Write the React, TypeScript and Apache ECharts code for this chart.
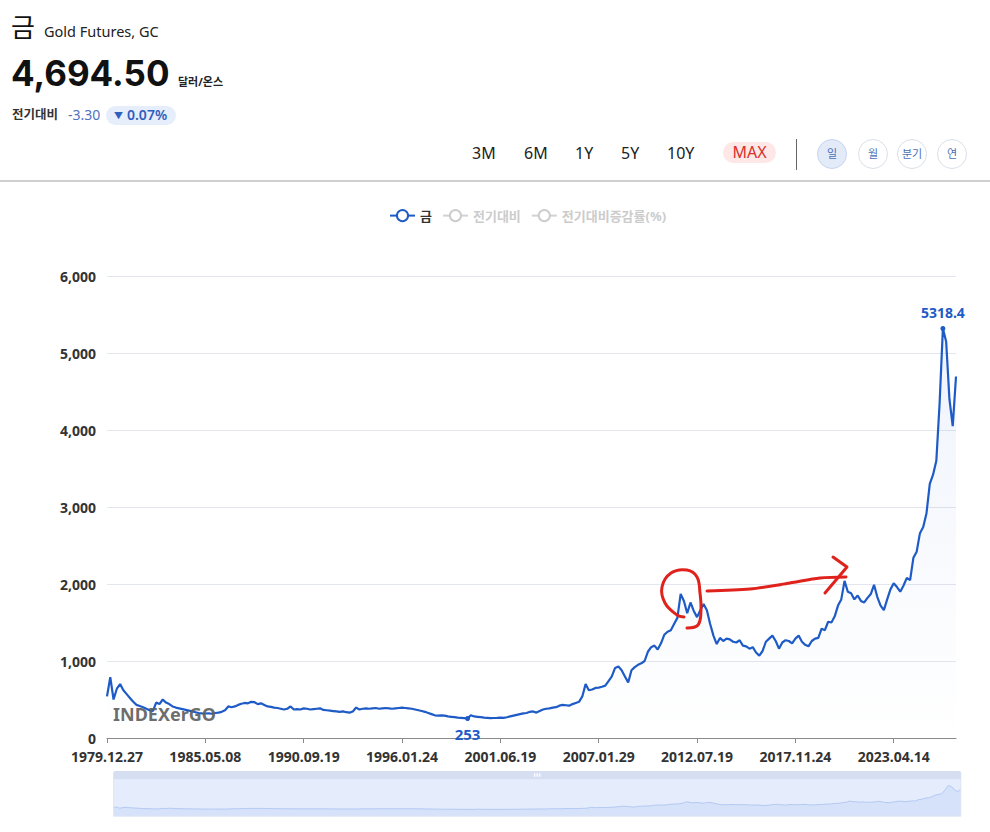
import React, { useEffect, useRef } from "react";
import * as echarts from "echarts";

const FONT = "'Noto Sans', 'Noto Sans CJK KR', sans-serif";
const BLUE = "#1e5bc6";
const RED = "#e0221c";

// x-axis tick labels (every STEP-th category)
const tickLabels = [
  "1979.12.27",
  "1985.05.08",
  "1990.09.19",
  "1996.01.24",
  "2001.06.19",
  "2007.01.29",
  "2012.07.19",
  "2017.11.24",
  "2023.04.14",
];
const STEP = 30;

// Gold futures, USD/oz (one point per ~2 months)
const prices1980 = [
  540, 790, 500, 640, 700, 620, 570, 520, 470, 430, 415, 400, 380, 360, 350,
  460, 440, 500, 460, 440, 410, 395, 385, 375, 365, 355, 345, 335, 325, 320,
];
const prices1985 = [
  318, 320, 315, 325, 330, 340, 360, 410, 400, 410, 430, 445, 455, 450, 470,
  465, 440, 450, 430, 410, 405, 395, 390, 380, 370, 380, 410, 370, 375, 370,
];
const prices1990 = [
  385, 380, 370, 375, 380, 385, 365, 360, 355, 350, 345, 340, 345, 335, 330,
  345, 395, 370, 380, 385, 380, 385, 390, 380, 385, 390, 385, 380, 385, 390,
];
const prices1996 = [
  395, 390, 385, 380, 370, 360, 350, 340, 325, 310, 295, 290, 295, 290, 280,
  275, 270, 265, 262, 258, 253, 295, 280, 275, 270, 265, 262, 258, 260, 262,
];
const prices2001 = [
  265, 262, 270, 280, 290, 300, 310, 320, 325, 340, 345, 330, 350, 370, 380,
  385, 395, 400, 420, 430, 425, 420, 440, 455, 470, 540, 700, 620, 630, 650,
];
const prices2007 = [
  655, 665, 680, 740, 800, 910, 930, 880, 800, 720, 880, 920, 950, 970, 1000,
  1120, 1180, 1200, 1150, 1230, 1340, 1380, 1400, 1480, 1560, 1870, 1780, 1620, 1760, 1650,
];
const prices2012 = [
  1570, 1660, 1740, 1660, 1480, 1330, 1220, 1300, 1260, 1290, 1280, 1250, 1240, 1270, 1200,
  1190, 1160, 1180, 1110, 1070, 1130, 1250, 1290, 1330, 1260, 1160, 1240, 1270, 1260, 1230,
];
const prices2017 = [
  1290, 1330, 1250, 1210, 1190, 1260, 1290, 1300, 1420, 1400, 1510, 1500, 1580, 1720, 1800,
  2040, 1900, 1880, 1800, 1850, 1780, 1760, 1820, 1870, 1990, 1830, 1720, 1660, 1800, 1930,
];
const prices2023 = [
  2010, 1960, 1900, 1980, 2080, 2050, 2340, 2420, 2660, 2740, 2920, 3300, 3420, 3600, 4350,
  5318.4, 5150, 4400, 4050, 4694.5,
];

const prices = [
  ...prices1980, ...prices1985, ...prices1990, ...prices1996, ...prices2001,
  ...prices2007, ...prices2012, ...prices2017, ...prices2023,
];

function parseDate(s: string) {
  const [y, m, d] = s.split(".").map(Number);
  return Date.UTC(y, m - 1, d);
}
function fmt(t: number) {
  const d = new Date(t);
  const p = (n: number) => String(n).padStart(2, "0");
  return `${d.getUTCFullYear()}.${p(d.getUTCMonth() + 1)}.${p(d.getUTCDate())}`;
}
function buildDates(n: number) {
  const ts = tickLabels.map(parseDate);
  const out: string[] = [];
  for (let i = 0; i < n; i++) {
    let seg = Math.floor(i / STEP);
    if (seg > ts.length - 2) seg = ts.length - 2;
    const t0 = ts[seg];
    const t1 = ts[seg + 1];
    const f = (i - seg * STEP) / STEP;
    out.push(f === 0 ? tickLabels[seg] : fmt(t0 + f * (t1 - t0)));
  }
  return out;
}
const dates = buildDates(prices.length);

export default function App() {
  const ref = useRef<HTMLDivElement>(null);

  useEffect(() => {
    if (!ref.current) return;
    const chart = echarts.init(ref.current, null, { renderer: "svg" });
    const option: any = {
      animation: false,
      textStyle: { fontFamily: FONT },
      legend: {
        left: 384,
        top: 204,
        itemWidth: 25,
        itemHeight: 14,
        itemGap: 10,
        data: ["금", "전기대비", "전기대비증감률(%)"],
        selected: { "금": true, "전기대비": false, "전기대비증감률(%)": false },
        textStyle: { fontSize: 13, fontWeight: "bold", color: "#333", fontFamily: FONT },
        inactiveColor: "#cccccc",
      },
      grid: { left: 107, right: 34, top: 276, bottom: 94, outerBoundsMode: "none" },
      xAxis: {
        type: "category",
        boundaryGap: false,
        data: dates,
        axisLine: { lineStyle: { color: "#8a8a8a" } },
        axisTick: { interval: STEP - 1, length: 5, lineStyle: { color: "#8a8a8a" } },
        axisLabel: {
          interval: STEP - 1,
          fontSize: 14,
          lineHeight: 14,
          fontWeight: "bold",
          color: "#333",
          margin: 11,
          fontFamily: FONT,
        },
        splitLine: { show: false },
      },
      yAxis: {
        type: "value",
        min: 0,
        max: 6000,
        interval: 1000,
        axisLine: { show: false },
        axisTick: { show: false },
        axisLabel: {
          fontSize: 14,
          lineHeight: 12,
          fontWeight: "bold",
          color: "#333",
          margin: 11,
          fontFamily: FONT,
          formatter: (v: number) => v.toLocaleString("en-US"),
        },
        splitLine: { lineStyle: { color: "#e4e6ee" } },
      },
      dataZoom: [
        {
          type: "slider",
          xAxisIndex: 0,
          start: 0,
          end: 100,
          left: 110,
          right: 32,
          top: 771,
          height: 38,
          showDetail: false,
          brushSelect: true,
          borderColor: "#dfe5f3",
          backgroundColor: "rgba(0,0,0,0)",
          fillerColor: "rgba(170,196,245,0.3)",
          handleStyle: { color: "rgba(0,0,0,0)", borderColor: "rgba(0,0,0,0)" },
          moveHandleSize: 8,
          moveHandleStyle: { color: "#d6dff2", opacity: 1 },
          dataBackground: {
            lineStyle: { color: "#a9c0ef", width: 0.8 },
            areaStyle: { color: "#c8d7f5", opacity: 0.4 },
          },
          selectedDataBackground: {
            lineStyle: { color: "#a9c0ef", width: 0.8 },
            areaStyle: { color: "#c8d7f5", opacity: 0.4 },
          },
        },
      ],
      series: [
        {
          name: "금",
          type: "line",
          data: prices,
          symbol: "emptyCircle",
          symbolSize: 8,
          showSymbol: false,
          color: BLUE,
          lineStyle: { color: BLUE, width: 2.2 },
          itemStyle: { color: BLUE },
          areaStyle: {
            color: new echarts.graphic.LinearGradient(0, 0, 0, 1, [
              { offset: 0, color: "rgba(30,91,198,0.10)" },
              { offset: 1, color: "rgba(30,91,198,0.0)" },
            ]),
          },
          markPoint: {
            symbol: "circle",
            symbolSize: 5,
            itemStyle: { color: BLUE },
            label: { color: BLUE, fontWeight: "bold", fontSize: 14, fontFamily: FONT },
            data: [
              { type: "max", name: "max", label: { position: "top", distance: 6 } },
              { type: "min", name: "min", label: { position: "bottom", distance: 5, fontSize: 15 } },
            ],
          },
          z: 3,
        },
        {
          name: "전기대비",
          type: "line",
          data: [],
          symbol: "emptyCircle",
          color: "#8da2cc",
        },
        {
          name: "전기대비증감률(%)",
          type: "line",
          data: [],
          symbol: "emptyCircle",
          color: "#c28da2",
        },
      ],
      graphic: [
        {
          type: "text",
          left: 113,
          top: 705,
          z: 100,
          style: {
            text: "INDEXerGO",
            font: `bold 18px ${FONT}`,
            fill: "rgba(95,95,95,0.92)",
          },
        },
        {
          type: "polyline",
          z: 100,
          shape: {
            points: [
              [687, 628], [698, 625], [701, 610], [700, 593], [697, 577],
              [687, 570], [671, 573], [662, 587], [665, 603], [677, 615], [684, 617],
            ],
            smooth: 0.4,
          },
          style: { stroke: RED, lineWidth: 3, fill: null, lineCap: "round", lineJoin: "round" },
        },
        {
          type: "polyline",
          z: 100,
          shape: {
            points: [[707, 591], [750, 589], [790, 583], [820, 578], [846, 577]],
            smooth: 0.3,
          },
          style: { stroke: RED, lineWidth: 3, fill: null, lineCap: "round" },
        },
        {
          type: "polyline",
          z: 100,
          shape: { points: [[833, 557], [847, 567], [825, 593]] },
          style: { stroke: RED, lineWidth: 3, fill: null, lineCap: "round", lineJoin: "round" },
        },
      ],
    };
    chart.setOption(option);
    return () => chart.dispose();
  }, []);

  const abs = (s: React.CSSProperties): React.CSSProperties => ({
    position: "absolute",
    whiteSpace: "nowrap",
    ...s,
  });
  const btn = (label: string, left: number) => (
    <div
      key={label}
      style={abs({ left, top: 143, height: 21, lineHeight: "21px", fontSize: 16, color: "#222", fontFamily: FONT })}
    >
      {label}
    </div>
  );
  const circ = (label: string, cx: number, active: boolean) => (
    <div
      key={label}
      style={abs({
        left: cx - 15,
        top: 139,
        width: 28,
        height: 28,
        borderRadius: "50%",
        border: `1px solid ${active ? "#c6d4ee" : "#dadfe8"}`,
        background: active ? "#e3ebf9" : "#fff",
        color: "#4d6fb5",
        fontSize: 11,
        lineHeight: "28px",
        textAlign: "center",
        fontFamily: FONT,
      })}
    >
      {label}
    </div>
  );

  return (
    <div style={{ position: "absolute", left: 0, top: 0, width: 990, height: 832, background: "#fff", fontFamily: FONT }}>
      <div ref={ref} style={{ position: "absolute", left: 0, top: 0, width: 990, height: 832 }} />
      <div style={abs({ left: 11, top: 11, fontSize: 26, lineHeight: "32px", color: "#111" })}>금</div>
      <div style={abs({ left: 44, top: 21, fontSize: 14.5, lineHeight: "20px", color: "#222" })}>Gold Futures, GC</div>
      <div
        style={abs({
          left: 11,
          top: 52,
          fontSize: 35,
          lineHeight: "42px",
          fontWeight: 700,
          color: "#111",
          fontFamily: "Inter, 'Noto Sans', sans-serif",
        })}
      >
        4,694.50
      </div>
      <div style={abs({ left: 178, top: 75, fontSize: 11, lineHeight: "14px", fontWeight: 700, color: "#222" })}>달러/온스</div>
      <div style={abs({ left: 12, top: 105, fontSize: 12.5, lineHeight: "19px", fontWeight: 700, color: "#333" })}>전기대비</div>
      <div style={abs({ left: 68, top: 105, fontSize: 14, lineHeight: "19px", color: "#4f72c2" })}>-3.30</div>
      <div
        style={abs({
          left: 106,
          top: 106,
          width: 70,
          height: 19,
          borderRadius: 10,
          background: "#e6eefb",
        })}
      />
      <div style={abs({ left: 114, top: 106, fontSize: 9, lineHeight: "19px", color: "#2f5fbf" })}>▼</div>
      <div style={abs({ left: 127, top: 105, fontSize: 14, lineHeight: "20px", fontWeight: 600, color: "#2f5fbf" })}>0.07%</div>

      {btn("3M", 472)}
      {btn("6M", 524)}
      {btn("1Y", 575)}
      {btn("5Y", 621)}
      {btn("10Y", 667)}
      <div
        style={abs({
          left: 723,
          top: 142,
          width: 53,
          height: 21,
          borderRadius: 11,
          background: "#fde7e7",
          color: "#d9302c",
          fontSize: 16,
          lineHeight: "21px",
          textAlign: "center",
          fontFamily: FONT,
        })}
      >
        MAX
      </div>
      <div style={abs({ left: 796, top: 139, width: 1, height: 31, background: "#666" })} />
      {circ("일", 832, true)}
      {circ("월", 873, false)}
      {circ("분기", 912, false)}
      {circ("연", 952, false)}
      <div style={abs({ left: 0, top: 180, width: 990, height: 2, background: "#cfcfcf" })} />
    </div>
  );
}
